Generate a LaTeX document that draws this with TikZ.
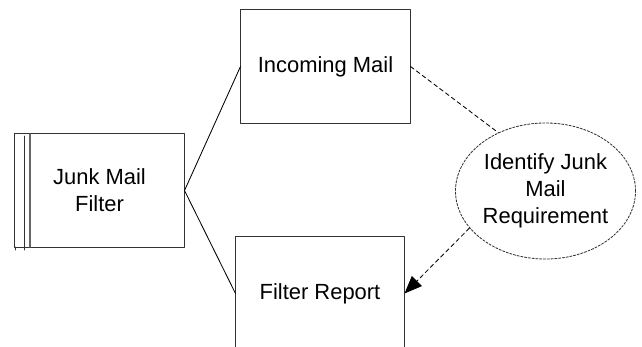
\documentclass[tikz,border=0pt]{standalone}
\usepackage{fontspec}
\setmainfont{Liberation Sans}
\usetikzlibrary{arrows.meta}
\usetikzlibrary{shapes.geometric}

\tikzset{
  box/.style={draw=black!80,line width=0.7pt,minimum width=4.225cm,minimum height=2.825cm,inner sep=0pt,align=center},
  usecase/.style={ellipse,draw=black!80,line width=0.6pt,dash pattern=on 1.6pt off 1.1pt,minimum width=4.5cm,minimum height=3.4cm,inner sep=0pt,align=center},
  assoc/.style={draw=black,line width=0.6pt},
  dep/.style={draw=black,line width=0.6pt,dash pattern=on 3pt off 2.2pt}
}

\begin{document}
\begin{tikzpicture}[line cap=round,line join=round,>={Triangle[length=12.5pt,width=10pt]},x=0.025cm,y=-0.025cm,font=\fontsize{15.6}{19.2}\selectfont]
      \clip (0,0) rectangle (642,347);
      \node[box] (junk) at (99.5,190.5) {Junk Mail\\Filter};
      \draw[color=black!80,line width=0.7pt] (15,247) -- (15,250);
      \draw[color=black!80,line width=0.7pt] (24,136) -- (24,250);
      \draw[color=black!60,line width=1pt] (30,134) -- (30,247);
      \node[box] (incoming) at (325.5,66.5) {Incoming Mail};
      \node[box,minimum width=4.2cm] (report) at (320,293.5) {Filter Report};
      \node[usecase] (req) at (545.5,191) {Identify Junk\\Mail\\Requirement};
      \draw[assoc] (junk.east) -- (incoming.west);
      \draw[assoc] (junk.east) -- (report.west);
      \draw[dep] (incoming.east) -- (req.129);
      \draw[dep,->] (req.206) -- (report.east);
    \end{tikzpicture}
\end{document}
